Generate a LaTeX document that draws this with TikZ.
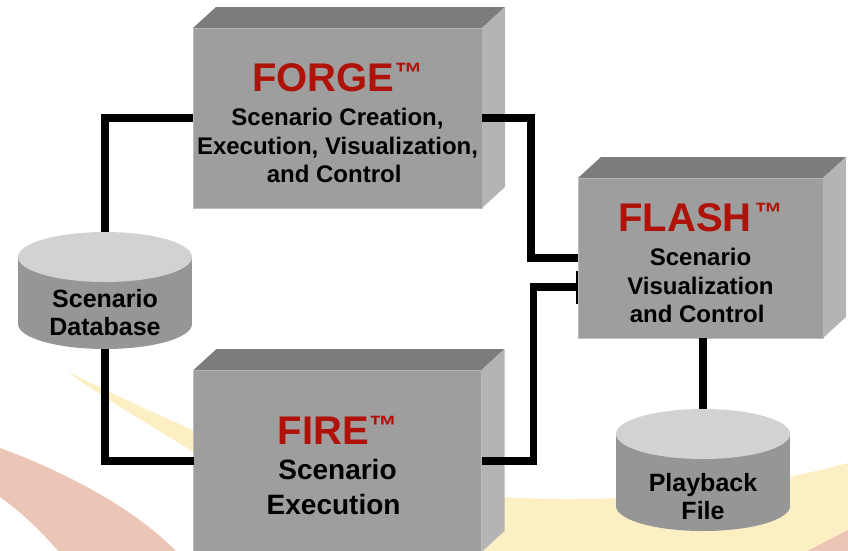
\documentclass[tikz,border=0pt]{standalone}
\usepackage{fontspec}
\setmainfont{Liberation Sans}
\usetikzlibrary{arrows.meta, positioning, calc}

\definecolor{frontgray}{RGB}{158,158,158}
\definecolor{topgray}{RGB}{124,124,124}
\definecolor{sidegray}{RGB}{180,180,180}
\definecolor{edgegray}{RGB}{190,190,190}
\definecolor{storetopgray}{RGB}{210,210,210}
\definecolor{storesidegray}{RGB}{150,150,150}
\definecolor{titlered}{RGB}{175,18,8}
\definecolor{swooshyellow}{RGB}{253,239,196}
\definecolor{swooshsalmon}{RGB}{235,197,182}

\newcommand{\tm}{\raisebox{9pt}{\fontsize{28}{28}\selectfont ™}}

\newcommand{\block}[4][]{
  \node(#2)[
    block,
    #1
  ] {
    {\color{titlered}\fontsize{40}{40}\selectfont\rule{0pt}{38pt}#3}\\[\titlegap]
    #4
  };
  \fill[blocktop] (#2.north west) -- ++(23,-21)
    -- ($(#2.north east)+(23,-21)$) -- (#2.north east) -- cycle;
  \fill[blockside] (#2.north east) -- ++(23,-21)
    -- ($(#2.south east)+(23,-21)$) -- (#2.south east) -- cycle;
}

\newcommand{\store}[6][22]{
  \fill[storeside] (#3-87,#4) rectangle (#3+87,#5);
  \fill[storeside] (#3,#5) ellipse [x radius=87pt, y radius=25pt];
  \fill[storetop] (#3,#4) ellipse [x radius=87pt, y radius=25pt];
  \coordinate (#2 top) at (#3,#4-25);
  \coordinate (#2 bottom) at (#3,#5+25);
  \node(#2)[storetext] at (#3,{(#4+#5)/2+#1}) {#6};
}

\tikzset{
  title gap/.store in=\titlegap,
  title gap=6pt,
  block/.style = {
    rectangle,
    fill=frontgray,
    draw=edgegray,
    line width=0.8pt,
    inner sep=0pt,
    outer sep=0pt,
    align=center,
    font=\bfseries\fontsize{24}{28.5}\selectfont,
  },
  blocktop/.style = {
    fill=topgray,
  },
  blockside/.style = {
    fill=sidegray,
  },
  storeside/.style = {
    fill=storesidegray,
  },
  storetop/.style = {
    fill=storetopgray,
  },
  storetext/.style = {
    align=center,
    inner sep=0pt,
    font=\bfseries\fontsize{25}{28}\selectfont,
  },
  link/.style = {
    line width=7.5pt,
    draw=black,
  },
}

\begin{document}
\begin{tikzpicture}[x=1pt, y=-1pt]

\useasboundingbox (0,0) rectangle (848,550);

% background swooshes
\fill[swooshyellow] (68,372) .. controls (120,397) and (160,416) .. (200,433)
  -- (503,497) .. controls (600,503) and (720,497) .. (848,463)
  -- (848,560) -- (300,560) -- (200,456)
  .. controls (150,425) and (100,396) .. (68,372) -- cycle;
\fill[swooshsalmon] (790,560) -- (848,530) -- (848,560) -- cycle;
\fill[swooshsalmon] (0,448) .. controls (60,470) and (130,505) .. (175,550)
  -- (185,560) -- (66,560)
  .. controls (45,535) and (25,515) .. (0,497) -- cycle;

\block[at={(337.5,118)}, minimum width=289pt, minimum height=180pt]{FORGE}{FORGE\tm}{
  Scenario Creation,\\
  Execution, Visualization,\\
  and Control
};

\block[below=162pt of FORGE, minimum width=288pt, minimum height=182pt,
  font=\bfseries\fontsize{28}{35}\selectfont, title gap=0pt]{FIRE}{FIRE\tm}{
  Scenario\\
  Execution
};

\block[at={(700.5,258)}, minimum width=245pt, minimum height=160pt]{FLASH}{FLASH\hspace{3pt}\tm}{
  Scenario\\
  Visualization\\
  and Control
};

\store{Database}{105}{257}{324}{Scenario\\Database}
\store[27]{Playback}{703}{434}{506}{Playback\\File}

\draw[link] (Database top) |- (FORGE.west);
\draw[link] (Database bottom) |- (FIRE.west);
\draw[link] (FORGE.east) -- ++(49,0) |- (FLASH.west);
\draw[link, -{Bar[width=33pt, line width=2pt]}]
  (FIRE.east) -- ++(52,0) |- ($(FLASH.west)+(0,29)$);
\draw[link] (Playback top |- FLASH.south) -- (Playback top);

\end{tikzpicture}
\end{document}
